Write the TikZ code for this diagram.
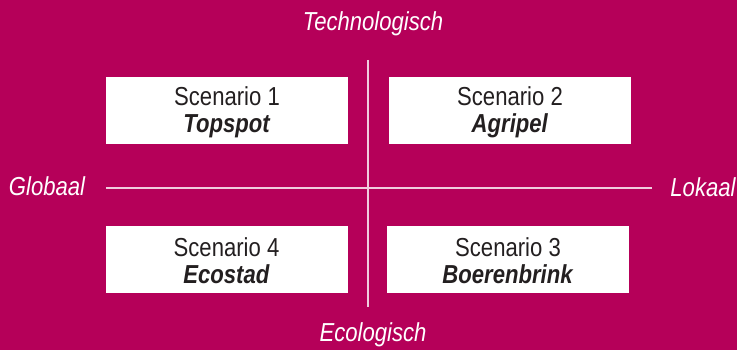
\documentclass[tikz,border=0pt]{standalone}
\usepackage{fontspec}
\setmainfont[FakeStretch=0.85]{Liberation Sans}
\definecolor{bgmag}{RGB}{181,0,89}
\definecolor{axisc}{RGB}{240,205,222}
\definecolor{txtc}{RGB}{35,31,32}
\begin{document}
\begin{tikzpicture}[x=1pt,y=-1pt,
  scenbox/.style={fill=white,draw=none,minimum width=242pt,minimum height=67pt,inner sep=0pt},
  scentext/.style={text=txtc,align=center,font=\fontsize{26}{27}\selectfont,inner sep=0pt},
  axislabel/.style={text=white,font=\fontsize{26}{27}\selectfont\itshape,inner sep=0pt},
  axisline/.style={draw=axisc,line width=1.6pt}]
\fill[bgmag] (0,0) rectangle (737,350);
\useasboundingbox (0,0) rectangle (737,350);
\node[scenbox] (b1) at (227,110.5) {};
\node[scenbox] (b2) at (510,110.5) {};
\node[scenbox] (b4) at (226.5,259.5) {};
\node[scenbox] (b3) at (508,259.5) {};
\node[scentext] (t1) at (227,112) {Scenario 1\\\textbf{\textit{Topspot}}};
\node[scentext] (t2) at (510,112) {Scenario 2\\\textbf{\textit{Agripel}}};
\node[scentext] (t4) at (226.5,261) {Scenario 4\\\textbf{\textit{Ecostad}}};
\node[scentext] (t3) at (508,261) {Scenario 3\\\textbf{\textit{Boerenbrink}}};
\coordinate (vtop) at (368,60);
\coordinate (vbot) at (368,307);
\coordinate (hleft) at (106,188);
\coordinate (hright) at (652,188);
\draw[axisline] (vtop) -- (vbot);
\draw[axisline] (hleft) -- (hright);
\node[axislabel] (glob) at (47,186) {Globaal};
\node[axislabel] (lok) at (703,187) {Lokaal};
\node[axislabel] (tech) at (373,24) {Technologisch};
\node[axislabel] (eco) at (373,335) {Ecologisch};
\end{tikzpicture}
\end{document}
